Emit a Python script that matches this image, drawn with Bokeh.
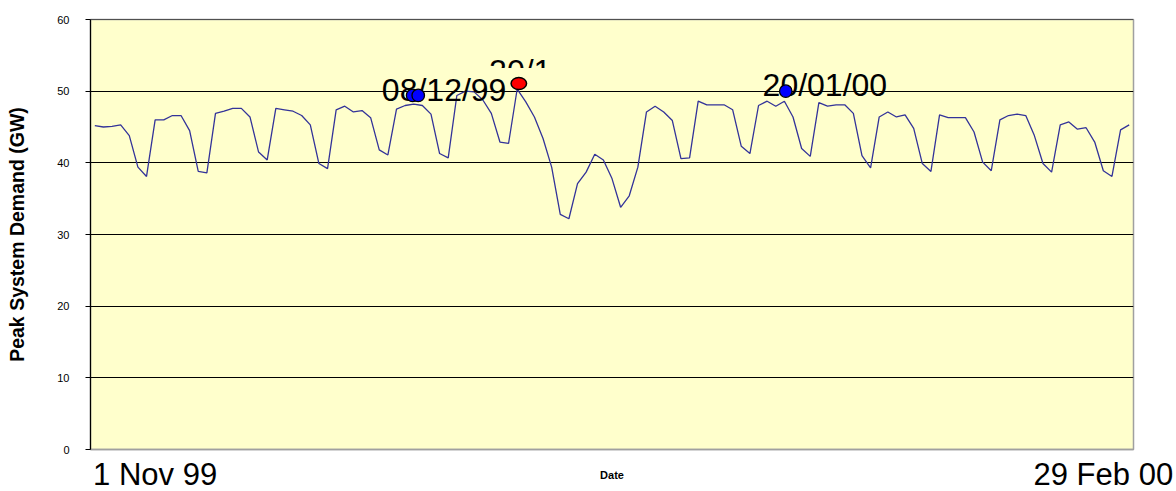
from bokeh.plotting import figure
from bokeh.models import Range1d, FixedTicker, Span, ColumnDataSource
from bokeh.core.properties import value
from bokeh.embed import file_html
from bokeh.resources import INLINE

# ---- data: daily peak system demand (GW), 1 Nov 1999 .. 29 Feb 2000 ----
days = list(range(121))
demand = [
    45.2, 45.0, 45.1, 45.3, 43.8, 39.4, 38.1,
    46.0, 46.0, 46.6, 46.6, 44.5, 38.8, 38.6,
    46.9, 47.2, 47.6, 47.6, 46.4, 41.5, 40.4,
    47.6, 47.4, 47.2, 46.6, 45.3, 39.9, 39.2,
    47.4, 47.9, 47.1, 47.3, 46.3, 41.8, 41.1,
    47.5, 48.0, 48.2, 48.0, 46.8, 41.3, 40.7,
    49.4, 50.0, 49.9, 48.8, 46.9, 42.9, 42.7,
    50.3, 48.5, 46.4, 43.4, 39.4, 32.8, 32.2,
    37.1, 38.7, 41.2, 40.4, 37.8, 33.8, 35.4,
    39.4, 47.1, 47.9, 47.1, 45.9, 40.6, 40.7,
    48.6, 48.1, 48.1, 48.1, 47.4, 42.3, 41.3,
    48.0, 48.6, 47.9, 48.6, 46.4, 42.0, 40.9,
    48.4, 47.9, 48.1, 48.1, 46.9, 41.0, 39.3,
    46.4, 47.1, 46.4, 46.7, 44.8, 39.9, 38.8,
    46.7, 46.3, 46.3, 46.3, 44.3, 40.1, 38.9,
    46.0, 46.6, 46.8, 46.6, 43.8, 39.9, 38.7,
    45.3, 45.7, 44.7, 44.9, 42.9, 38.9, 38.1,
    44.6, 45.3,
]

# highlighted points
blue_days = [36.87, 37.52, 80.16]
blue_vals = [49.4, 49.4, 50.0]
red_days = [49.19]
red_vals = [51.07]

# point labels
label_texts = ["08/12/99", "20/01/00"]
label_x = [33.3, 77.47]
label_y = [50.2, 50.9]
max_label_text = ["20/1"]
max_label_x = [45.74]
max_label_y = [52.85]
max_label_visible_to = 53.23   # the label is only visible above this value

y_ticks = [0, 10, 20, 30, 40, 50, 60]
grid_ticks = [10, 20, 30, 40, 50, 60]
end_label_pos = [7, 117]
end_label_text = ["1 Nov 99", "29 Feb 00"]
x_title = "Date"
y_title = "Peak System Demand (GW)"

FONT = "Liberation Sans"
BG = "#FFFFCC"

p = figure(width=1176, height=491, output_backend="svg", toolbar_location=None,
           x_range=Range1d(-0.5, 120.5), y_range=Range1d(0, 60),
           min_border_left=90, min_border_right=43, min_border_top=19,
           min_border_bottom=42)
p.background_fill_color = BG
p.border_fill_color = "white"
p.outline_line_color = "#a0a0a0"
p.outline_line_width = 1.5

p.xgrid.visible = False
p.ygrid.ticker = FixedTicker(ticks=grid_ticks)
p.ygrid.grid_line_color = "black"
p.ygrid.grid_line_width = 1

# x axis: only the two end labels and the "Date" title
xa = p.xaxis[0]
xa.ticker = FixedTicker(ticks=end_label_pos)
xa.major_label_overrides = {k: t for k, t in zip(end_label_pos, end_label_text)}
xa.axis_line_color = "#a0a0a0"
xa.axis_line_width = 1.5
xa.major_tick_line_color = None
xa.minor_tick_line_color = None
xa.major_tick_out = 0
xa.minor_tick_out = 0
xa.major_label_text_font = FONT
xa.major_label_text_font_size = "31px"
xa.major_label_text_color = "black"
xa.major_label_standoff = 7
xa.axis_label = x_title
xa.axis_label_text_font = FONT
xa.axis_label_text_font_style = "bold"
xa.axis_label_text_font_size = "11px"
xa.axis_label_text_color = "black"
xa.axis_label_standoff = -26

ya = p.yaxis[0]
ya.ticker = FixedTicker(ticks=y_ticks)
ya.axis_line_color = "black"
ya.axis_line_width = 1.2
ya.major_tick_line_color = "black"
ya.major_tick_in = 0
ya.major_tick_out = 5
ya.minor_tick_line_color = None
ya.minor_tick_out = 0
ya.major_label_text_font = FONT
ya.major_label_text_font_size = "11px"
ya.major_label_text_color = "black"
ya.major_label_standoff = 16
ya.axis_label = y_title
ya.axis_label_text_font = FONT
ya.axis_label_text_font_style = "bold"
ya.axis_label_text_font_size = "19.5px"
ya.axis_label_text_color = "black"
ya.axis_label_standoff = 26

p.add_layout(Span(location=60, dimension="width", line_color="black", line_width=1))

# clipped max label ("20/1") with its lower half hidden, as in the original
p.text(x=max_label_x, y=max_label_y, text=max_label_text,
       text_font=value(FONT), text_font_size="32px", text_color="black",
       text_align="left", text_baseline="alphabetic")
p.quad(left=[max_label_x[0] - 0.3], right=[max_label_x[0] + 7.6],
       bottom=[red_vals[0] - 0.28], top=[max_label_visible_to],
       fill_color=BG, line_color=None)

src = ColumnDataSource(data=dict(day=days, demand=demand))
p.line("day", "demand", source=src, line_color="#333399", line_width=1.3)

p.text(x=label_x, y=label_y, text=label_texts,
       text_font=value(FONT), text_font_size="32px", text_color="black",
       text_align="left", text_baseline="alphabetic")

p.scatter(x=blue_days, y=blue_vals, size=12.5, fill_color="#0000FF",
          line_color="black", line_width=1.3)
p.ellipse(x=red_days, y=red_vals, width=15.5, height=12, width_units="screen",
          height_units="screen", fill_color="#FF0000", line_color="black",
          line_width=1.5)

open("out.html", "w").write(file_html(p, INLINE))
